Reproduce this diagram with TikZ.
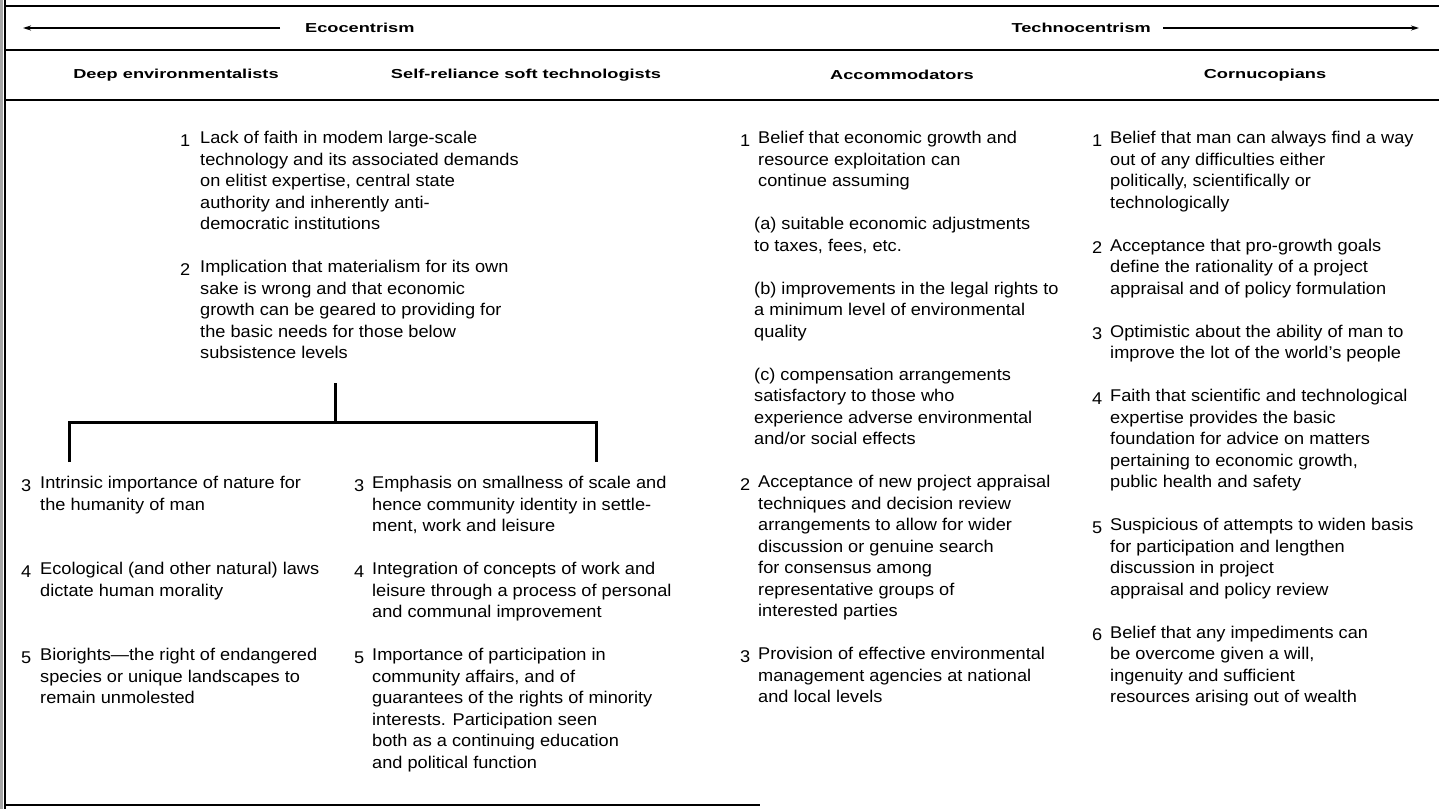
\documentclass[tikz,border=0pt]{standalone}
\usepackage{fontspec}
\setmainfont{Liberation Sans}[FakeStretch=1.07]
\newfontfamily\headfam{Liberation Sans}[FakeStretch=1.4]
\usetikzlibrary{arrows.meta}
\newcommand{\bodyfont}{\fontsize{17}{21.5}\selectfont}
\newcommand{\headfont}{\headfam\bfseries\fontsize{13}{15}\selectfont}
\tikzset{
  rule/.style={line width=1.6pt},
  treeline/.style={line width=3pt},
  txt/.style={anchor=north west, align=left, inner sep=0pt, font=\bodyfont, execute at begin node=\strut},
  num/.style={anchor=north west, inner sep=0pt, font=\bodyfont, execute at begin node=\strut},
  head/.style={inner sep=0pt, font=\headfont},
  tip/.style={-{Stealth[length=8pt,width=5pt]}, line width=1.3pt}
}
\begin{document}
\begin{tikzpicture}[x=1pt,y=-1pt]
\useasboundingbox (0,0) rectangle (1439,809);
% frame and rules
\fill[black!35] (0,0) rectangle (3,809);
\draw[rule] (5,0) -- (5,809);
\draw[rule] (5,6) -- (1439,6);
\draw[rule] (5,50) -- (1439,50);
\draw[rule] (5,100) -- (1439,100);
\draw[rule] (5,805) -- (760,805);

% title row
\node[head, anchor=west] (eco) at (305,28) {Ecocentrism};
\node[head, anchor=east] (techno) at (1151,28) {Technocentrism};
\coordinate (ecoend) at (23,28);
\coordinate (technoend) at (1419,28);
\draw[tip] ([xshift=-25pt]eco.west) -- (ecoend);
\draw[tip] ([xshift=12pt]techno.east) -- (technoend);

% column heads
\node[head] (deep) at (176,75) {Deep environmentalists};
\node[head] (soft) at (526,75) {Self-reliance soft technologists};
\node[head] (accom) at (902,75) {Accommodators};
\node[head] (corn) at (1265,75) {Cornucopians};

% shared points of the first two columns
\node[num] (up1n) at (180,131) {1};
\node[txt] (up1) at (200,131) {Lack of faith in modem large-scale\\technology and its associated demands\\on elitist expertise, central state\\authority and inherently anti-\\democratic institutions};
\node[num] (up2n) at (180,260) {2};
\node[txt] (up2) at (200,260) {Implication that materialism for its own\\sake is wrong and that economic\\growth can be geared to providing for\\the basic needs for those below\\subsistence levels};

% split
\coordinate (treetop) at (335,383);
\coordinate (fork) at (335,422);
\coordinate (lefttip) at (69,462);
\coordinate (righttip) at (596,462);
\draw[treeline] (treetop) -- (fork);
\draw[treeline] (lefttip) -- (lefttip |- fork) -- (righttip |- fork) -- (righttip);

% deep environmentalists
\node[num] (deep3n) at (21,476) {3};
\node[txt] (deep3) at (40,476) {Intrinsic importance of nature for\\the humanity of man};
\node[num] (deep4n) at (21,562) {4};
\node[txt] (deep4) at (40,562) {Ecological (and other natural) laws\\dictate human morality};
\node[num] (deep5n) at (21,648) {5};
\node[txt] (deep5) at (40,648) {Biorights—the right of endangered\\species or unique landscapes to\\remain unmolested};

% self-reliance soft technologists
\node[num] (soft3n) at (354,476) {3};
\node[txt] (soft3) at (372,476) {Emphasis on smallness of scale and\\hence community identity in settle-\\ment, work and leisure};
\node[num] (soft4n) at (354,562) {4};
\node[txt] (soft4) at (372,562) {Integration of concepts of work and\\leisure through a process of personal\\and communal improvement};
\node[num] (soft5n) at (354,648) {5};
\node[txt] (soft5) at (372,648) {Importance of participation in\\community affairs, and of\\guarantees of the rights of minority\\interests. Participation seen\\both as a continuing education\\and political function};

% accommodators
\node[num] (acc1n) at (740,131) {1};
\node[txt] (acc1) at (758,131) {Belief that economic growth and\\resource exploitation can\\continue assuming};
\node[txt] (acca) at (754,217) {(a) suitable economic adjustments\\to taxes, fees, etc.};
\node[txt] (accb) at (754,281.5) {(b) improvements in the legal rights to\\a minimum level of environmental\\quality};
\node[txt] (accc) at (754,367.5) {(c) compensation arrangements\\satisfactory to those who\\experience adverse environmental\\and/or social effects};
\node[num] (acc2n) at (740,475) {2};
\node[txt] (acc2) at (758,475) {Acceptance of new project appraisal\\techniques and decision review\\arrangements to allow for wider\\discussion or genuine search\\for consensus among\\representative groups of\\interested parties};
\node[num] (acc3n) at (740,647) {3};
\node[txt] (acc3) at (758,647) {Provision of effective environmental\\management agencies at national\\and local levels};

% cornucopians
\node[num] (corn1n) at (1092,131) {1};
\node[txt] (corn1) at (1110,131) {Belief that man can always find a way\\out of any difficulties either\\politically, scientifically or\\technologically};
\node[num] (corn2n) at (1092,238.5) {2};
\node[txt] (corn2) at (1110,238.5) {Acceptance that pro-growth goals\\define the rationality of a project\\appraisal and of policy formulation};
\node[num] (corn3n) at (1092,324.5) {3};
\node[txt] (corn3) at (1110,324.5) {Optimistic about the ability of man to\\improve the lot of the world’s people};
\node[num] (corn4n) at (1092,389) {4};
\node[txt] (corn4) at (1110,389) {Faith that scientific and technological\\expertise provides the basic\\foundation for advice on matters\\pertaining to economic growth,\\public health and safety};
\node[num] (corn5n) at (1092,518) {5};
\node[txt] (corn5) at (1110,518) {Suspicious of attempts to widen basis\\for participation and lengthen\\discussion in project\\appraisal and policy review};
\node[num] (corn6n) at (1092,625.5) {6};
\node[txt] (corn6) at (1110,625.5) {Belief that any impediments can\\be overcome given a will,\\ingenuity and sufficient\\resources arising out of wealth};
\end{tikzpicture}
\end{document}
